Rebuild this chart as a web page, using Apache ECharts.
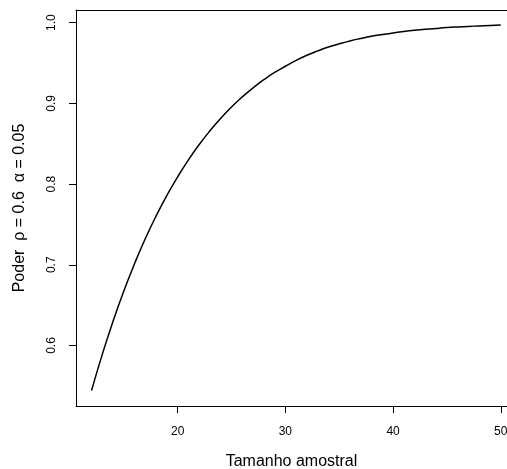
<!DOCTYPE html>
<html lang="pt">
<head>
    <meta charset="UTF-8">
    <title>Poder</title>
    <script src="https://cdn.jsdelivr.net/npm/echarts@6/dist/echarts.min.js"></script>
    <style>
        html, body {
            margin: 0;
            padding: 0;
            background-color: #fff;
        }

        #chart {
            width: 507px;
            height: 469px;
        }
    </style>
</head>
<body>
    <div id="chart"></div>

    <script>
        // tamanho amostral e poder
        const tamanhos = [12, 13, 14, 15, 16, 17, 18, 19, 20, 21, 22, 23, 24, 25, 26, 27, 28, 29, 30, 31,
            32, 33, 34, 35, 36, 37, 38, 39, 40, 41, 42, 43, 44, 45, 46, 47, 48, 49, 50];
        const poder = [0.544, 0.589, 0.630, 0.6675, 0.7015, 0.7325, 0.7605, 0.786, 0.809, 0.830,
            0.849, 0.866, 0.8815, 0.8955, 0.908, 0.9192, 0.9293, 0.9383, 0.946, 0.9533,
            0.9596, 0.965, 0.9698, 0.9738, 0.9774, 0.9804, 0.9831, 0.9853, 0.9873, 0.989,
            0.9905, 0.9918, 0.9929, 0.9939, 0.9947, 0.9954, 0.996, 0.9965, 0.997];
        const xTicks = [20, 30, 40, 50];
        const yTicks = [0.6, 0.7, 0.8, 0.9, 1.0];

        const fonte = '"Liberation Sans", Arial, sans-serif';
        const xMin = 10.56;
        const xMax = 50.58;

        const chart = echarts.init(document.getElementById('chart'));
        const option = {
            animation: false,
            grid: {
                left: 76,
                right: 0,
                top: 10,
                bottom: 63,
                outerBoundsMode: 'none',
                containLabel: false
            },
            xAxis: [{
                type: 'value',
                min: xMin,
                max: xMax,
                name: 'Tamanho amostral',
                nameLocation: 'middle',
                nameGap: 48,
                nameTextStyle: { fontFamily: fonte, fontSize: 16, color: '#000' },
                axisLine: { show: true, onZero: false, lineStyle: { color: '#000' } },
                axisTick: { show: true, length: 7, customValues: xTicks, lineStyle: { color: '#000' } },
                axisLabel: {
                    customValues: xTicks,
                    fontFamily: fonte,
                    fontSize: 12,
                    color: '#000',
                    margin: 20
                },
                splitLine: { show: false }
            }, {
                // linha superior da caixa
                type: 'value',
                position: 'top',
                min: xMin,
                max: xMax,
                axisLine: { show: true, onZero: false, lineStyle: { color: '#000' } },
                axisTick: { show: false },
                axisLabel: { show: false },
                splitLine: { show: false }
            }],
            yAxis: {
                type: 'value',
                min: 0.525,
                max: 1.0157,
                axisLine: { show: true, onZero: false, lineStyle: { color: '#000' } },
                axisTick: { show: true, length: 7, customValues: yTicks, lineStyle: { color: '#000' } },
                axisLabel: {
                    customValues: yTicks,
                    rotate: 90,
                    fontFamily: fonte,
                    fontSize: 12,
                    color: '#000',
                    margin: 18,
                    formatter: v => v.toFixed(1)
                },
                splitLine: { show: false }
            },
            graphic: [{
                type: 'text',
                x: 20,
                y: 208,
                rotation: Math.PI / 2,
                style: {
                    text: 'Poder  ρ = 0.6  α = 0.05',
                    font: '16px ' + fonte,
                    fill: '#000',
                    align: 'center',
                    verticalAlign: 'middle'
                }
            }],
            series: [{
                type: 'line',
                data: tamanhos.map((n, i) => [n, poder[i]]),
                smooth: true,
                showSymbol: false,
                lineStyle: { color: '#000', width: 1.5 }
            }]
        };
        chart.setOption(option);
    </script>
</body>
</html>
